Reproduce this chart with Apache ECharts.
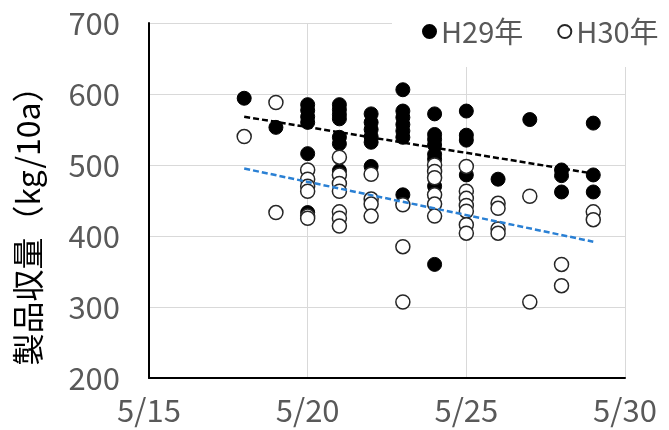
<!DOCTYPE html>
<html>
<head>
<meta charset="utf-8">
<script src="https://cdn.jsdelivr.net/npm/echarts@6/dist/echarts.min.js"></script>
<style>
  html, body { margin: 0; padding: 0; background: #fff; }
  #chart { width: 669px; height: 430px; }
</style>
</head>
<body>
<div id="chart"></div>
<script>
// day of May, yield (kg/10a)
const h29Points = [
  [18, 594],
  [19, 553],
  [20, 585], [20, 577], [20, 568], [20, 560], [20, 516], [20, 433],
  [21, 585], [21, 578], [21, 571], [21, 565], [21, 539], [21, 530], [21, 492],
  [22, 572], [22, 560], [22, 550], [22, 540], [22, 532], [22, 498],
  [23, 606], [23, 576], [23, 567], [23, 557], [23, 548], [23, 539], [23, 458],
  [24, 572], [24, 543], [24, 536], [24, 528], [24, 515], [24, 508], [24, 470], [24, 360],
  [25, 576], [25, 542], [25, 535], [25, 486],
  [26, 480],
  [27, 564],
  [28, 493], [28, 485], [28, 462],
  [29, 559], [29, 486], [29, 462]
]
const h30Points = [
  [18, 540],
  [19, 588], [19, 433],
  [20, 493], [20, 480], [20, 470], [20, 463], [20, 428], [20, 425],
  [21, 511], [21, 486], [21, 474], [21, 463], [21, 434], [21, 425], [21, 414],
  [22, 487], [22, 452], [22, 445], [22, 428],
  [23, 444], [23, 385], [23, 307],
  [24, 500], [24, 491], [24, 482], [24, 458], [24, 445], [24, 428],
  [25, 498], [25, 463], [25, 453], [25, 443], [25, 435], [25, 416], [25, 404],
  [26, 446], [26, 439], [26, 410], [26, 404],
  [27, 456], [27, 307],
  [28, 360], [28, 330],
  [29, 434], [29, 423]
]
const h29Trend = [[18, 568], [29, 488]]
const h30Trend = [[18, 495], [29, 392]]
const seriesNames = ['H29年', 'H30年']
const yTitle = '製品収量（kg/10a）'

const numFont = '"Liberation Sans Narrow", "Arial Narrow", "Noto Sans CJK JP", sans-serif'

const myChart = echarts.init(document.getElementById('chart'))
const option = {
  animation: false,
  backgroundColor: '#fff',
  grid: { left: 149, right: 44, top: 23, bottom: 52 },
  legend: {
    data: seriesNames,
    left: 392,
    top: 0,
    width: 260,
    padding: [17, 2, 21, 30],
    backgroundColor: '#fff',
    icon: 'circle',
    itemWidth: 13,
    itemHeight: 13,
    itemGap: 34,
    textStyle: { color: '#595959', fontSize: 29, fontFamily: numFont }
  },
  xAxis: {
    type: 'value',
    min: 15,
    max: 30,
    interval: 5,
    axisLine: { show: true, onZero: false, lineStyle: { color: '#000', width: 2 } },
    axisTick: { show: false },
    splitLine: { show: true, lineStyle: { color: '#d9d9d9', width: 1 } },
    axisLabel: {
      color: '#595959', fontSize: 31, fontFamily: numFont, margin: 17,
      formatter: (v) => '5/' + v
    }
  },
  yAxis: {
    type: 'value',
    min: 200,
    max: 700,
    interval: 100,
    axisLine: { show: true, lineStyle: { color: '#000', width: 2 } },
    axisTick: { show: false },
    splitLine: { show: true, lineStyle: { color: '#d9d9d9', width: 1 } },
    axisLabel: { color: '#595959', fontSize: 31, fontFamily: numFont, margin: 29 }
  },
  graphic: [{
    type: 'text',
    x: 28,
    y: 218,
    rotation: Math.PI / 2,
    style: {
      text: yTitle,
      fill: '#000',
      font: '32px "Noto Sans CJK JP", sans-serif',
      align: 'center',
      verticalAlign: 'middle'
    }
  }],
  series: [
    {
      name: seriesNames[0],
      type: 'scatter',
      data: h29Points,
      symbolSize: 14,
      itemStyle: { color: '#000', borderColor: '#000', borderWidth: 1, opacity: 1 }
    },
    {
      name: seriesNames[1],
      type: 'scatter',
      data: h30Points,
      symbolSize: 14,
      itemStyle: { color: '#fff', borderColor: '#262626', borderWidth: 1.5, opacity: 1 }
    },
    {
      name: 'H29 trend',
      type: 'line',
      data: h29Trend,
      symbol: 'none',
      lineStyle: { color: '#000', width: 2.5, type: [6, 3] },
      z: 3
    },
    {
      name: 'H30 trend',
      type: 'line',
      data: h30Trend,
      symbol: 'none',
      lineStyle: { color: '#2a80d4', width: 2.5, type: [6, 3] },
      z: 3
    }
  ]
}
myChart.setOption(option)
</script>
</body>
</html>
